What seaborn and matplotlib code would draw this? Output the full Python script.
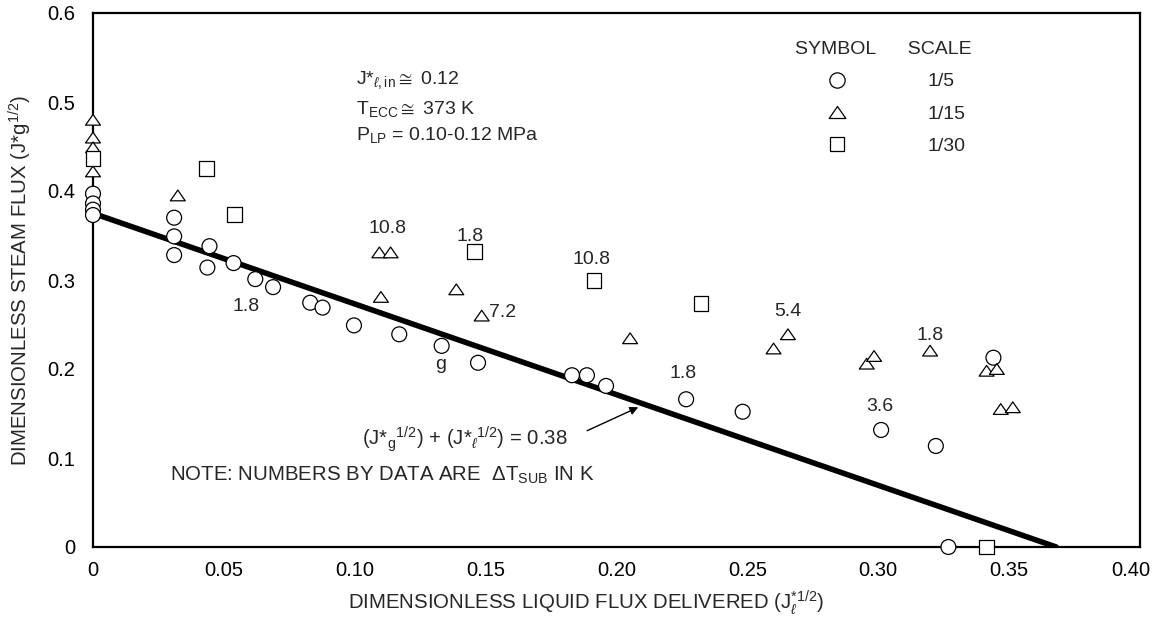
import matplotlib
matplotlib.use("Agg")
import matplotlib.pyplot as plt
import matplotlib.transforms as mtransforms
import pandas as pd
import seaborn as sns
from matplotlib.lines import Line2D
from matplotlib.path import Path

# 1/5 scale model (circles)
scale5_liquid = [0.0, 0.0, 0.0, 0.0, 0.031, 0.031, 0.031, 0.0445, 0.0437, 0.0537,
                 0.062, 0.0688, 0.083, 0.0877, 0.0997, 0.117, 0.1332, 0.1471, 0.183,
                 0.1887, 0.196, 0.2266, 0.2482, 0.3011, 0.322, 0.344, 0.3268]
scale5_steam = [0.397, 0.386, 0.379, 0.373, 0.370, 0.349, 0.328, 0.338, 0.314, 0.319,
                0.301, 0.292, 0.2745, 0.269, 0.249, 0.239, 0.226, 0.207, 0.193,
                0.193, 0.181, 0.166, 0.152, 0.1315, 0.1135, 0.2127, 0.0]

# 1/15 scale model (triangles)
scale15_liquid = [0.0, 0.0, 0.0, 0.0, 0.0324, 0.1094, 0.1137, 0.110, 0.1388, 0.1485,
                  0.2052, 0.260, 0.2655, 0.2956, 0.2984, 0.3198, 0.3414, 0.3453,
                  0.3468, 0.3514]
scale15_steam = [0.480, 0.460, 0.449, 0.422, 0.395, 0.331, 0.331, 0.281, 0.2895, 0.260,
                 0.2345, 0.223, 0.239, 0.206, 0.2146, 0.2206, 0.198, 0.200,
                 0.155, 0.157]

# 1/30 scale model (squares)
scale30_liquid = [0.0, 0.0434, 0.0541, 0.1457, 0.1914, 0.2323, 0.3414]
scale30_steam = [0.437, 0.425, 0.374, 0.332, 0.299, 0.274, 0.0]

# correlation line (J*g^1/2) + (J*l^1/2) = 0.38
fit_liquid = [0.0, 0.368]
fit_steam = [0.375, 0.0]

# subcooling labels next to data (K)
subcool_text = ["10.8", "1.8", "10.8", "7.2", "1.8", "g", "5.4", "1.8", "3.6", "1.8"]
subcool_x = [0.1126, 0.1440, 0.1905, 0.1566, 0.0585, 0.1327, 0.2655, 0.2253, 0.3004, 0.3198]
subcool_y = [0.358, 0.3494, 0.3225, 0.2637, 0.270, 0.2056, 0.2644, 0.1944, 0.1584, 0.2382]

x_ticks = [0.0, 0.05, 0.10, 0.15, 0.20, 0.25, 0.30, 0.35, 0.40]
x_ticklabels = ["0", "0.05", "0.10", "0.15", "0.20", "0.25", "0.30", "0.35", "0.40"]
y_ticks = [0.0, 0.1, 0.2, 0.3, 0.4, 0.5, 0.6]
y_ticklabels = ["0", "0.1", "0.2", "0.3", "0.4", "0.5", "0.6"]

scale_names = ["1/5", "1/15", "1/30"]

df = pd.concat(
    [
        pd.DataFrame({"liquid": scale5_liquid, "steam": scale5_steam, "scale": "1/5"}),
        pd.DataFrame({"liquid": scale15_liquid, "steam": scale15_steam, "scale": "1/15"}),
        pd.DataFrame({"liquid": scale30_liquid, "steam": scale30_steam, "scale": "1/30"}),
    ],
    ignore_index=True,
)

sns.set_style("white")
plt.rcParams["font.family"] = ["Liberation Sans", "DejaVu Sans"]
plt.rcParams["mathtext.fontset"] = "custom"
plt.rcParams["mathtext.rm"] = "Liberation Sans"
plt.rcParams["mathtext.it"] = "Liberation Sans:italic"
plt.rcParams["mathtext.bf"] = "Liberation Sans:bold"
plt.rcParams["mathtext.fallback"] = "stixsans"

# flat, slightly wide triangle like the original symbol
tri = Path([(-1.0, -0.72), (1.0, -0.72), (0.0, 0.72), (-1.0, -0.72)],
           [Path.MOVETO, Path.LINETO, Path.LINETO, Path.CLOSEPOLY])
marker_map = {"1/5": "o", "1/15": tri, "1/30": "s"}

fig = plt.figure(figsize=(11.57, 6.21), dpi=100)
ax = fig.add_axes([93 / 1157, 74 / 621, 1047 / 1157, 534 / 621])

sns.lineplot(x=fit_liquid, y=fit_steam, color="black", linewidth=4.0, ax=ax, zorder=2)
sns.scatterplot(
    data=df,
    x="liquid",
    y="steam",
    style="scale",
    markers=marker_map,
    s=115,
    color="white",
    edgecolor="black",
    linewidth=0.9,
    legend=False,
    clip_on=False,
    ax=ax,
    zorder=3,
)

ax.set_xlim(0, 0.40)
ax.set_ylim(0, 0.60)
ax.set_xticks(x_ticks)
ax.set_xticklabels(x_ticklabels)
ax.set_yticks(y_ticks)
ax.set_yticklabels(y_ticklabels)
ax.tick_params(axis="x", direction="in", length=14, width=0.9, pad=10, labelsize=14.5, colors="black")
ax.tick_params(axis="y", direction="in", length=14, width=0.9, pad=13, labelsize=14.5, colors="black")
for side in ["left", "right", "top", "bottom"]:
    ax.spines[side].set_visible(True)
    ax.spines[side].set_color("black")
    ax.spines[side].set_linewidth(1.6)

# last x label sits a little left of its tick, as in the original
last_label = ax.get_xticklabels()[-1]
last_label.set_transform(last_label.get_transform()
                         + mtransforms.ScaledTranslation(-0.09, 0, fig.dpi_scale_trans))

ax.set_xlabel(r"DIMENSIONLESS LIQUID FLUX DELIVERED (J$_{\ell}^{*1/2}$)", fontsize=14.7, va="center")
ax.set_ylabel(r"DIMENSIONLESS STEAM FLUX (J*g$^{1/2}$)", fontsize=14.7, va="center")
ax.xaxis.set_label_coords(0.471, -0.105)
ax.yaxis.set_label_coords(-0.0697, 0.5)

for label, lx, ly in zip(subcool_text, subcool_x, subcool_y):
    ax.text(lx, ly, label, ha="center", va="center", fontsize=14)

ax.text(0.1005, 0.5247, r"J*$_{\ell,\mathrm{in}}$$\cong$ 0.12", ha="left", va="center", fontsize=14)
ax.text(0.1005, 0.492, r"T$_{\mathrm{ECC}}$$\cong$ 373 K", ha="left", va="center", fontsize=14)
ax.text(0.1005, 0.4629, r"P$_{\mathrm{LP}}$ = 0.10-0.12 MPa", ha="left", va="center", fontsize=14)

ax.text(0.1028, 0.1213, r"(J*$_{\mathrm{g}}$$^{1/2}$) + (J*$_{\ell}$$^{1/2}$) = 0.38",
        ha="left", va="center", fontsize=14.7)
ax.annotate("", xy=(0.2083, 0.157), xytext=(0.1888, 0.1307),
            arrowprops=dict(arrowstyle="-|>", color="black", lw=1.0, mutation_scale=12, shrinkA=0, shrinkB=0))
ax.text(0.0294, 0.0809, r"NOTE: NUMBERS BY DATA ARE  $\Delta$T$_{\mathrm{SUB}}$ IN K",
        ha="left", va="center", fontsize=14.7)

handles = [
    Line2D([], [], linestyle="none", marker=marker_map[name], markersize=size,
           markerfacecolor="white", markeredgecolor="black", markeredgewidth=0.9)
    for name, size in zip(scale_names, [11, 12, 9.5])
]
leg = ax.legend(
    handles,
    scale_names,
    title="SYMBOL      SCALE",
    loc="upper left",
    bbox_to_anchor=(0.6705, 0.947),
    frameon=False,
    fontsize=14,
    title_fontsize=14,
    handlelength=4.3,
    handletextpad=2.5,
    labelspacing=0.75,
    borderpad=0,
    borderaxespad=0,
    alignment="left",
)

fig.savefig("out.png", dpi=100)
